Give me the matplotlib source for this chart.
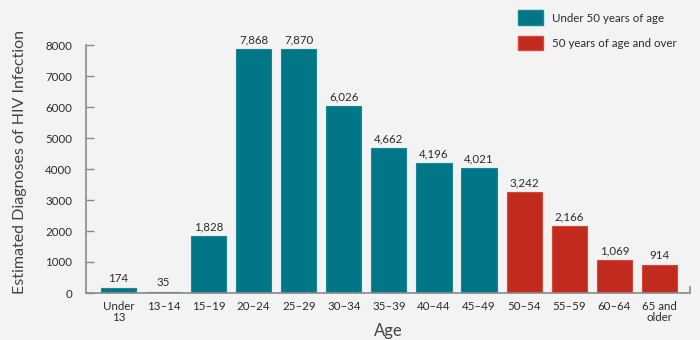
import matplotlib
matplotlib.use("Agg")
import matplotlib.pyplot as plt
from matplotlib.patches import Patch

age_groups = ["Under\n13", "13\u201314", "15\u201319", "20\u201324", "25\u201329", "30\u201334",
              "35\u201339", "40\u201344", "45\u201349", "50\u201354", "55\u201359", "60\u201364",
              "65 and\nolder"]
diagnoses = [174, 35, 1828, 7868, 7870, 6026, 4662, 4196, 4021, 3242, 2166, 1069, 914]
over_50 = [False] * 9 + [True] * 4
y_ticks = [0, 1000, 2000, 3000, 4000, 5000, 6000, 7000, 8000]
legend_labels = ["Under 50 years of age", "50 years of age and over"]

TEAL = "#007686"
RED = "#c02b1e"
BG = "#f3f3f3"
TEXT = "#2b2b2b"
AXIS = "#8a8a8a"

plt.rcParams["font.family"] = ["Lato", "DejaVu Sans"]

fig = plt.figure(figsize=(7, 3.4), dpi=100, facecolor=BG)
ax = fig.add_axes([86 / 700, 1 - 293 / 340, (690 - 86) / 700, (293 - 45) / 340])
ax.set_facecolor(BG)

x = list(range(len(age_groups)))
colors = [RED if o else TEAL for o in over_50]
edge = ["#d9473a" if o else "#1a8796" for o in over_50]
ax.bar(x, diagnoses, width=0.78, color=colors, edgecolor=edge, linewidth=0.8, zorder=2)

for xi, v in zip(x, diagnoses):
    ax.text(xi, v + 120, f"{v:,}", ha="center", va="bottom", fontsize=8.3, color=TEXT)

ax.set_xlim(-0.72, 12.68)
ax.set_ylim(0, 8000)
ax.set_yticks(y_ticks)
ax.set_yticklabels([str(t) for t in y_ticks], fontsize=8.3, color=TEXT)
ax.set_xticks(x)
ax.set_xticklabels(age_groups, fontsize=8.3, color=TEXT, linespacing=0.95)
ax.tick_params(axis="y", direction="in", length=6, color=AXIS, width=1, pad=10)
ax.tick_params(axis="x", length=0, pad=6)

for s in ["top", "right"]:
    ax.spines[s].set_visible(False)
for s in ["left", "bottom"]:
    ax.spines[s].set_color(AXIS)
    ax.spines[s].set_linewidth(1.2)
ax.plot([1, 1], [0, 0.025], transform=ax.transAxes, color=AXIS, lw=1.2, clip_on=False)

ax.set_ylabel("Estimated Diagnoses of HIV Infection", fontsize=11.5, color="#444444")
ax.yaxis.set_label_coords(-0.097, 0.53)
ax.set_xlabel("Age", fontsize=12, color="#444444", labelpad=0)

handles = [Patch(facecolor=TEAL, edgecolor=edge[0]), Patch(facecolor=RED, edgecolor=edge[-1])]
fig.legend(handles, legend_labels, loc="upper left", bbox_to_anchor=(508 / 700, 1.0),
           frameon=False, fontsize=8.3, handlelength=2.1, handleheight=1.6,
           labelspacing=0.9, handletextpad=0.8, labelcolor=TEXT)

fig.savefig("out.png", dpi=100, facecolor=BG)
